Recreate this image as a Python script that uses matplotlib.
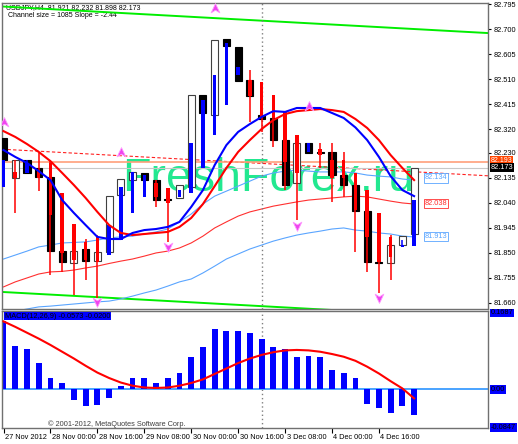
import matplotlib
matplotlib.use('Agg')
import matplotlib.pyplot as plt
import matplotlib.transforms as mtransforms
from matplotlib.path import Path
import numpy as np

plt.rcParams['font.family'] = ['Liberation Sans', 'DejaVu Sans']

# --- USDJPY H4 candles (open / close), bars 27 Nov 08:00 .. 4 Dec 20:00
cndl_open = [82.286, 82.134, 82.202, 82.172, 82.138, 81.856, 81.811, 81.864, 81.818, 81.853,
             82.069, 82.126, 82.153, 82.126, 82.054, 82.058, 82.100, 82.449, 82.373, 82.662,
             82.632, 82.506, 82.373, 82.362, 82.278, 82.115, 82.267, 82.233, 82.233, 82.145,
             82.107, 82.008, 81.815, 81.811, 81.879, 81.921]
cndl_close = [82.202, 82.202, 82.153, 82.138, 81.856, 81.815, 81.856, 81.818, 81.853, 82.065,
              82.130, 82.157, 82.126, 82.050, 82.050, 82.107, 82.449, 82.381, 82.658, 82.635,
              82.502, 82.445, 82.358, 82.278, 82.107, 82.267, 82.229, 82.229, 82.145, 82.107,
              82.008, 81.815, 81.811, 81.879, 81.913, 82.173]

# --- Heiken Ashi
ha_open = [82.100, 82.157, 82.153, 82.164, 82.191, 82.077, 81.959, 81.891, 81.910, 81.841,
           81.898, 82.001, 82.062, 82.115, 82.096, 82.062, 82.077, 82.172, 82.297, 82.411,
           82.525, 82.506, 82.499, 82.449, 82.385, 82.297, 82.233, 82.244, 82.202, 82.202,
           82.153, 82.088, 82.001, 81.910, 81.872, 81.875]
ha_close = [82.202, 82.134, 82.191, 82.134, 81.993, 81.849, 81.822, 81.822, 81.815, 81.955,
            82.100, 82.157, 82.145, 82.062, 82.039, 82.088, 82.267, 82.430, 82.525, 82.647,
            82.556, 82.445, 82.366, 82.362, 82.195, 82.153, 82.267, 82.221, 82.134, 82.134,
            82.012, 81.910, 81.815, 81.834, 81.879, 82.050]
ha_high = [82.202, 82.202, 82.202, 82.229, 82.202, 82.077, 81.959, 81.902, 81.917, 81.955,
           82.100, 82.157, 82.145, 82.126, 82.096, 82.088, 82.267, 82.430, 82.525, 82.647,
           82.556, 82.544, 82.499, 82.449, 82.385, 82.297, 82.267, 82.267, 82.267, 82.233,
           82.153, 82.088, 82.001, 81.917, 81.898, 82.050]
ha_low = [82.100, 82.001, 82.153, 82.084, 81.765, 81.777, 81.689, 81.746, 81.678, 81.841,
          81.898, 82.001, 82.062, 82.024, 81.891, 82.062, 82.077, 82.172, 82.297, 82.411,
          82.525, 82.347, 82.309, 82.252, 82.088, 81.974, 82.233, 82.172, 82.043, 82.062,
          81.853, 81.777, 81.697, 81.746, 81.872, 81.875]

# --- moving averages
ma_fast = [82.240, 82.214, 82.191, 82.160, 82.126, 82.050, 82.001, 81.955, 81.910, 81.902,
           81.902, 81.925, 81.936, 81.940, 81.948, 81.967, 82.024, 82.088, 82.183, 82.259,
           82.309, 82.339, 82.366, 82.388, 82.385, 82.400, 82.400, 82.400, 82.381, 82.362,
           82.326, 82.278, 82.214, 82.141, 82.088, 82.065]
ma_slow = [82.312, 82.290, 82.263, 82.233, 82.198, 82.153, 82.107, 82.058, 82.005, 81.955,
           81.925, 81.917, 81.921, 81.925, 81.929, 81.948, 81.982, 82.035, 82.103, 82.172,
           82.233, 82.278, 82.320, 82.354, 82.377, 82.388, 82.392, 82.396, 82.392, 82.385,
           82.358, 82.324, 82.278, 82.221, 82.172, 82.126]

# --- envelopes
env_upper = [81.826, 81.841, 81.856, 81.872, 81.879, 81.887, 81.889, 81.891, 81.898, 81.906,
             81.910, 81.913, 81.921, 81.929, 81.940, 81.967, 81.997, 82.035, 82.065, 82.084,
             82.103, 82.122, 82.141, 82.153, 82.160, 82.164, 82.160, 82.157, 82.157, 82.157,
             82.153, 82.145, 82.141, 82.138, 82.130, 82.126]
env_mid = [81.720, 81.739, 81.754, 81.769, 81.777, 81.779, 81.784, 81.792, 81.799, 81.809,
           81.818, 81.826, 81.837, 81.849, 81.856, 81.868, 81.887, 81.913, 81.944, 81.967,
           81.989, 82.005, 82.016, 82.027, 82.035, 82.043, 82.050, 82.054, 82.058, 82.062,
           82.065, 82.062, 82.054, 82.046, 82.039, 82.035]
env_lower = [81.625, 81.628, 81.636, 81.644, 81.647, 81.651, 81.655, 81.659, 81.663, 81.666,
             81.674, 81.685, 81.697, 81.708, 81.723, 81.739, 81.750, 81.773, 81.799, 81.826,
             81.845, 81.864, 81.879, 81.894, 81.906, 81.917, 81.925, 81.932, 81.940, 81.944,
             81.936, 81.932, 81.925, 81.921, 81.913, 81.910]

# --- regression channel
ch_mid0 = 82.243
ch_slope = -0.00244
ch_size = 1.085

# --- arrows
up_bars = [0, 10, 18, 26]
up_prices = [82.347, 82.233, 82.780, 82.407]
dn_bars = [8, 14, 25, 32]
dn_prices = [81.663, 81.872, 81.951, 81.678]

# --- MACD(12,26,9)
macd_main = [0.151, 0.096, 0.088, 0.059, 0.024, 0.013, -0.024, -0.037, -0.035, -0.020,
             0.007, 0.024, 0.024, 0.015, 0.024, 0.037, 0.072, 0.094, 0.134, 0.129,
             0.129, 0.125, 0.112, 0.094, 0.088, 0.072, 0.074, 0.072, 0.042, 0.037,
             0.024, -0.033, -0.042, -0.053, -0.037, -0.057]
macd_signal = [0.150, 0.138, 0.125, 0.112, 0.098, 0.083, 0.068, 0.052, 0.037, 0.025,
               0.015, 0.008, 0.004, 0.003, 0.004, 0.008, 0.014, 0.022, 0.034, 0.046,
               0.058, 0.068, 0.076, 0.082, 0.086, 0.087, 0.086, 0.083, 0.078, 0.072,
               0.063, 0.050, 0.035, 0.018, 0.002, -0.020]

price_ticks = [82.795, 82.700, 82.605, 82.510, 82.415, 82.320, 82.230, 82.135, 82.040,
               81.945, 81.850, 81.755, 81.660]
time_ticks = [0, 4, 8, 12, 16, 20, 24, 28, 32]
time_labels = ['27 Nov 2012', '28 Nov 00:00', '28 Nov 16:00', '29 Nov 08:00', '30 Nov 00:00',
               '30 Nov 16:00', '3 Dec 08:00', '4 Dec 00:00', '4 Dec 16:00']

W, H = 518, 444
fig = plt.figure(figsize=(W / 100, H / 100), dpi=100)
ax = fig.add_axes([2 / W, (H - 309) / H, 486 / W, 306 / H])
ax2 = fig.add_axes([2 / W, (H - 428) / H, 486 / W, 117 / H])

x = np.arange(len(cndl_open))
xlim = (-0.13, 41.3)

# watermark
ax.text(10.1, 82.084, 'FreshForex.ru', fontsize=33.5, color='#22e890', ha='left',
        va='baseline', zorder=1)

# channel
xs = np.array([xlim[0], xlim[1]])
ch_mid = ch_mid0 + ch_slope * xs
ax.plot(xs, ch_mid + ch_size / 2, color='#00ee00', lw=1.4, zorder=2)
ax.plot(xs, ch_mid - ch_size / 2, color='#00ee00', lw=1.4, zorder=2)
ax.plot(xs, ch_mid, color='#ff2020', lw=0.8, ls=(0, (3, 2)), zorder=2)

# horizontal lines
ax.axhline(82.193, color='#ffa07a', lw=1.2, zorder=2)
ax.axhline(82.173, color='#c8c8c8', lw=0.8, zorder=2)

# envelopes
ax.plot(x, env_upper, color='#5aa5ff', lw=0.8, zorder=2)
ax.plot(x, env_mid, color='#ff3030', lw=0.8, zorder=2)
ax.plot(x, env_lower, color='#5aa5ff', lw=0.8, zorder=2)

# candles
o = np.array(cndl_open)
c = np.array(cndl_close)
bear = c < o
face = ['black' if b else 'white' for b in bear]
edge = ['black' if b else '#404040' for b in bear]
ax.bar(x, np.where(np.abs(c - o) < 0.003, 0.003, c - o), bottom=o, width=0.6,
       color=face, edgecolor=edge, linewidth=0.8, zorder=3)

# heiken ashi
hao = np.array(ha_open)
hac = np.array(ha_close)
ha_col = ['#0000ff' if cc >= oo else '#ff0000' for oo, cc in zip(hao, hac)]
ax.vlines(x, ha_low, ha_high, colors=ha_col, lw=1.1, zorder=4)
ax.bar(x, hac - hao, bottom=hao, width=0.3, color=ha_col, linewidth=0, zorder=4)

# moving averages
ax.plot(x, ma_slow, color='#ff0000', lw=1.5, zorder=5)
ax.plot(x, ma_fast, color='#0000ff', lw=1.5, zorder=5)

# arrows
up_arrow = Path([(0, 1), (0.9, -0.9), (0, -0.35), (-0.9, -0.9), (0, 1)],
                [Path.MOVETO, Path.LINETO, Path.LINETO, Path.LINETO, Path.CLOSEPOLY])
dn_arrow = Path([(0, -1), (0.9, 0.9), (0, 0.35), (-0.9, 0.9), (0, -1)],
                [Path.MOVETO, Path.LINETO, Path.LINETO, Path.LINETO, Path.CLOSEPOLY])
ax.plot(up_bars, up_prices, ls='none', marker=up_arrow, ms=7, mfc='#ee44ee', mec='#ff99ff',
        mew=0.6, zorder=6)
ax.plot(dn_bars, dn_prices, ls='none', marker=dn_arrow, ms=7, mfc='#ee44ee', mec='#ff99ff',
        mew=0.6, zorder=6)

# period separator
ax.axvline(22, color='#808080', lw=1, ls=(0, (1, 2)), zorder=2)
ax2.axvline(22, color='#808080', lw=1, ls=(0, (1, 2)), zorder=1)

# envelope price labels
for val, col in [(82.134, '#5aa5ff'), (82.038, '#ff3030'), (81.913, '#5aa5ff')]:
    ax.text(35.9, val, f'{val:.3f}', fontsize=5.3, color=col, va='center', ha='left', zorder=7,
            bbox=dict(boxstyle='square,pad=0.15', fc='white', ec=col, lw=0.6))

ax.set_xlim(*xlim)
ax.set_ylim(81.636, 82.799)
ax.set_xticks([])
ax.yaxis.tick_right()
ax.set_yticks(price_ticks)
ax.set_yticklabels([f'{v:.3f}' for v in price_ticks])
ax.tick_params(axis='y', direction='out', length=2.5, width=0.8, labelsize=5.3, pad=1.5)

# header text
ax.text(0.008, 0.997, 'USDJPY,H4  81.921 82.232 81.898 82.173', transform=ax.transAxes,
        fontsize=5.0, va='top', ha='left', zorder=1)
ax.text(0.012, 0.971, 'Channel size = 1085 Slope = -2.44', transform=ax.transAxes,
        fontsize=5.0, va='top', ha='left', zorder=1)

# axis price labels
tr = mtransforms.blended_transform_factory(ax.transAxes, ax.transData)
ax.text(1.006, 82.201, '82.193', transform=tr, fontsize=5.0, color='white', va='center',
        ha='left', clip_on=False, bbox=dict(boxstyle='square,pad=0.08', fc='#ff4500', ec='none'))
ax.text(1.006, 82.173, '82.173', transform=tr, fontsize=5.3, color='white', va='center',
        ha='left', clip_on=False, bbox=dict(boxstyle='square,pad=0.1', fc='black', ec='none'))

# MACD panel
ax2.bar(x, macd_main, width=0.5, color='#0000ff', zorder=2)
ax2.axhline(0, color='#3c9cff', lw=1.3, zorder=1)
ax2.plot(x, macd_signal, color='#ff0000', lw=1.5, zorder=3)
ax2.set_xlim(*xlim)
ax2.set_ylim(-0.0854, 0.173)
ax2.set_yticks([])
ax2.text(0.006, 0.985, 'MACD(12,26,9) -0.0573 -0.0200', transform=ax2.transAxes, fontsize=5.3,
         va='top', ha='left', zorder=5, bbox=dict(boxstyle='square,pad=0.1', fc='#0000ff', ec='none'))
tr2 = mtransforms.blended_transform_factory(ax2.transAxes, ax2.transData)
for val, txt in [(0.1687, '0.1687'), (0.0, '0.00'), (-0.0847, '-0.0847')]:
    ax2.text(1.006, val, txt, transform=tr2, fontsize=5.3, color='black', va='center', ha='left',
             clip_on=False, bbox=dict(boxstyle='square,pad=0.1', fc='#0000ff', ec='none'))
ax2.text(0.095, 0.035, '\u00a9 2001-2012, MetaQuotes Software Corp.', transform=ax2.transAxes,
         fontsize=5.3, color='#404040', va='center', ha='left')

ax2.set_xticks(time_ticks)
ax2.set_xticklabels(time_labels, ha='left', fontsize=5.3)
ax2.tick_params(axis='x', direction='out', length=3.5, width=0.8, pad=0.5)
shift = mtransforms.ScaledTranslation(1.5 / 100, 0, fig.dpi_scale_trans)
for lbl in ax2.get_xticklabels():
    lbl.set_transform(lbl.get_transform() + shift)

for a in (ax, ax2):
    for s in a.spines.values():
        s.set_color('#707070')
        s.set_linewidth(1)

fig.savefig('out.png', dpi=100)
